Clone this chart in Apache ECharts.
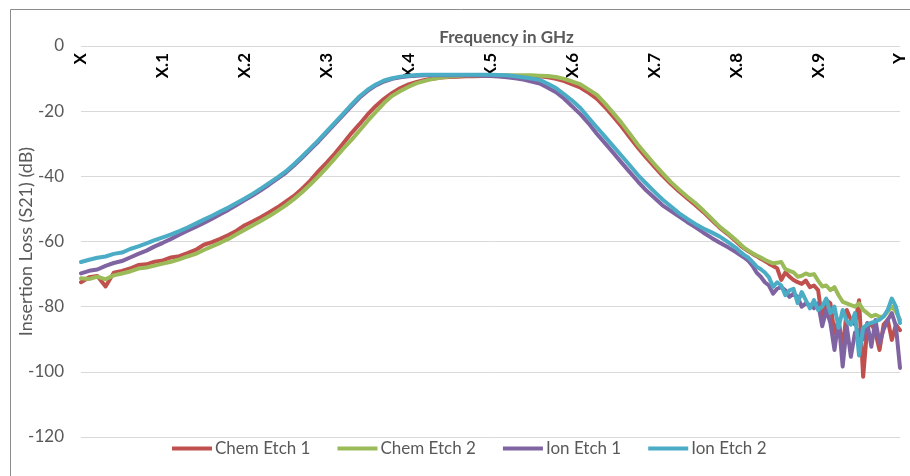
<!DOCTYPE html>
<html>
<head>
<meta charset="utf-8">
<script src="https://cdn.jsdelivr.net/npm/echarts@6/dist/echarts.min.js"></script>
<style>
html,body{margin:0;padding:0;background:#fff;}
#chart{width:910px;height:476px;}
</style>
</head>
<body>
<div id="chart"></div>
<script>
// Frequency positions as a fraction of the X..Y span
const freq = [
0,0.01,0.02,0.03,0.04,0.05,0.06,0.07,0.08,0.09,
0.10,0.11,0.12,0.13,0.14,0.15,0.16,0.17,0.18,0.19,
0.20,0.21,0.22,0.23,0.24,0.25,0.26,0.27,0.28,0.29,
0.30,0.31,0.32,0.33,0.34,0.35,0.36,0.37,0.38,0.39,
0.40,0.41,0.42,0.43,0.44,0.45,0.46,0.47,0.48,0.49,
0.50,0.51,0.52,0.53,0.54,0.55,0.56,0.57,0.58,0.59,
0.60,0.61,0.62,0.63,0.64,0.65,0.66,0.67,0.68,0.69,
0.70,0.71,0.72,0.73,0.74,0.75,0.76,0.77,0.78,0.79,
0.80,
0.805,0.81,0.815,0.82,0.825,0.83,0.835,0.84,0.845,0.85,
0.855,0.86,0.865,0.87,0.875,0.88,0.885,0.89,0.895,0.90,
0.905,0.91,0.915,0.92,0.925,0.93,0.935,0.94,0.945,0.95,
0.955,0.96,0.965,0.97,0.975,0.98,0.985,0.99,0.995,1.0
];

const chemEtch1 = [
-72.5,-71.0,-70.6,-73.8,-69.6,-69.0,-68.3,-67.2,-67.0,-66.2,
-65.8,-64.9,-64.5,-63.6,-62.6,-61.0,-60.2,-59.2,-58.0,-56.7,
-55.0,-53.8,-52.5,-51.0,-49.5,-47.8,-46.0,-43.8,-41.3,-38.4,
-35.8,-33.0,-29.9,-26.8,-24.0,-21.0,-18.4,-16.2,-14.4,-12.9,
-11.8,-11.0,-10.4,-10.0,-9.7,-9.5,-9.4,-9.3,-9.3,-9.2,
-9.2,-9.2,-9.2,-9.2,-9.2,-9.3,-9.3,-9.6,-10.1,-10.8,
-11.8,-12.8,-14.4,-16.2,-18.8,-21.7,-24.7,-28.0,-31.2,-34.2,
-37.0,-39.8,-42.3,-44.6,-46.7,-48.8,-51.0,-53.4,-55.8,-57.8,
-60.0,
-61.2,-62.2,-63.0,-63.8,-64.5,-65.3,-66.0,-66.8,-67.5,-68.2,
-71.8,-69.5,-70.8,-71.8,-72.5,-73.0,-72.0,-74.0,-73.5,-74.9,
-84.1,-78.0,-79.0,-88.2,-84.0,-93.3,-81.0,-84.0,-85.5,-78.0,
-101.5,-86.5,-85.0,-88.0,-93.3,-85.5,-84.0,-90.2,-85.5,-87.2
];

const chemEtch2 = [
-71.3,-71.5,-70.8,-71.6,-70.4,-69.8,-69.2,-68.3,-68.0,-67.4,
-66.8,-66.2,-65.5,-64.6,-63.8,-62.6,-61.5,-60.4,-59.2,-57.8,
-56.4,-55.0,-53.6,-52.2,-50.6,-48.9,-47.0,-44.9,-42.5,-40.0,
-37.3,-34.5,-31.6,-28.9,-26.0,-23.0,-20.2,-17.5,-15.3,-13.8,
-12.5,-11.4,-10.7,-10.1,-9.7,-9.4,-9.2,-9.0,-9.0,-9.0,
-9.0,-9.0,-9.0,-9.0,-9.0,-9.0,-9.1,-9.2,-9.5,-10.1,
-10.9,-11.8,-13.4,-15.0,-17.7,-20.6,-23.6,-26.9,-30.3,-33.3,
-36.2,-39.0,-41.7,-44.0,-46.2,-48.2,-50.5,-53.0,-55.5,-57.5,
-59.6,
-60.8,-62.0,-62.8,-63.6,-64.3,-64.9,-65.6,-66.2,-66.7,-66.5,
-66.3,-68.5,-69.0,-69.5,-70.8,-70.5,-69.8,-70.3,-70.0,-72.0,
-73.8,-73.5,-74.9,-74.0,-76.5,-78.5,-79.0,-79.5,-80.0,-79.0,
-81.0,-82.0,-83.0,-82.5,-83.1,-83.0,-81.5,-80.0,-81.5,-84.0
];

const ionEtch1 = [
-69.8,-69.0,-68.6,-67.5,-66.6,-66.0,-64.9,-63.8,-62.8,-61.5,
-60.4,-59.2,-57.9,-56.7,-55.5,-54.3,-53.0,-51.6,-50.3,-48.8,
-47.3,-45.8,-44.2,-42.5,-40.7,-38.9,-36.7,-34.3,-31.8,-29.3,
-26.6,-23.9,-21.2,-18.5,-15.9,-13.8,-12.1,-10.9,-10.1,-9.6,
-9.3,-9.1,-9.0,-9.0,-9.0,-9.0,-9.0,-9.0,-9.0,-9.1,
-9.2,-9.4,-9.6,-9.9,-10.3,-10.9,-11.5,-12.8,-14.2,-16.2,
-18.6,-21.0,-23.8,-27.0,-29.9,-32.8,-35.8,-38.7,-41.6,-44.3,
-46.6,-48.9,-50.6,-52.3,-54.0,-55.6,-57.3,-58.9,-60.4,-61.8,
-63.3,
-64.2,-65.0,-66.0,-67.5,-69.6,-70.8,-72.5,-73.5,-76.0,-74.5,
-74.0,-75.0,-77.0,-76.0,-77.0,-80.0,-79.0,-79.5,-80.5,-79.0,
-86.0,-81.0,-85.0,-93.3,-84.0,-98.4,-86.0,-95.4,-88.0,-87.2,
-90.0,-85.0,-92.3,-84.1,-91.2,-87.0,-84.0,-82.0,-86.0,-98.8
];

const ionEtch2 = [
-66.3,-65.6,-65.0,-64.6,-63.8,-63.4,-62.3,-61.5,-60.6,-59.6,
-58.7,-57.8,-56.8,-55.7,-54.5,-53.3,-52.1,-50.8,-49.6,-48.2,
-46.8,-45.3,-43.7,-42.0,-40.3,-38.5,-36.3,-33.9,-31.4,-28.9,
-26.2,-23.5,-20.8,-18.1,-15.5,-13.4,-11.8,-10.6,-9.9,-9.4,
-9.1,-8.9,-8.8,-8.8,-8.8,-8.8,-8.8,-8.8,-8.8,-8.8,
-8.8,-8.9,-9.0,-9.3,-9.6,-10.0,-10.4,-11.6,-12.9,-14.8,
-16.8,-19.1,-22.1,-25.0,-27.9,-30.8,-33.7,-36.6,-39.6,-42.2,
-44.7,-47.1,-49.2,-51.3,-53.0,-54.6,-56.0,-57.2,-58.5,-60.2,
-62.0,
-63.2,-64.2,-65.0,-66.3,-67.7,-68.5,-69.5,-71.0,-73.9,-72.5,
-73.5,-76.5,-75.0,-74.5,-78.9,-75.5,-78.0,-80.5,-78.0,-81.0,
-80.0,-77.5,-82.0,-80.0,-86.5,-81.0,-84.5,-85.5,-82.0,-95.0,
-86.5,-85.5,-85.0,-84.5,-84.0,-83.0,-81.0,-77.5,-80.0,-85.0
];

const xTickLabels = ['X','X.1','X.2','X.3','X.4','X.5','X.6','X.7','X.8','X.9','Y'];
const seriesNames = ['Chem Etch 1','Chem Etch 2','Ion Etch 1','Ion Etch 2'];
const seriesValues = [chemEtch1, chemEtch2, ionEtch1, ionEtch2];
const seriesColors = ['#C0504D','#9BBB59','#8064A2','#4BACC6'];

const FONT = 'Lato';
const chart = echarts.init(document.getElementById('chart'), null, {renderer:'canvas'});
chart.setOption({
  animation: false,
  backgroundColor: '#ffffff',
  graphic: [{
    type: 'rect', silent: true, z: -1,
    shape: {x: 10.5, y: 9.5, width: 1000, height: 600},
    style: {fill: 'none', stroke: '#8c8c8c', lineWidth: 1}
  }],
  grid: {left: 81, right: 10, top: 46, bottom: 39, containLabel: false, outerBoundsMode: 'none'},
  xAxis: {
    type: 'value', min: 0, max: 1, interval: 0.1, position: 'top',
    axisLine: {show: false}, axisTick: {show: false}, splitLine: {show: false},
    axisLabel: {
      inside: true, rotate: 90, margin: 7,
      fontFamily: FONT, fontWeight: 'bold', fontSize: 17, color: '#000',
      formatter: function (v) { return xTickLabels[Math.round(v * 10)]; }
    },
    name: 'Frequency in GHz', nameLocation: 'middle', nameGap: 0, nameMoveOverlap: false,
    nameTextStyle: {fontFamily: FONT, fontWeight: 'bold', fontSize: 17, color: '#595959',
      verticalAlign: 'bottom', padding: [0, 0, 0, 32]}
  },
  yAxis: {
    type: 'value', min: -120, max: 0, interval: 20,
    axisLine: {show: false}, axisTick: {show: false},
    splitLine: {lineStyle: {color: '#D9D9D9', width: 1}},
    axisLabel: {fontFamily: FONT, fontSize: 17, color: '#595959', margin: 17},
    name: 'Insertion Loss (S21) (dB)', nameLocation: 'middle', nameGap: 46, nameRotate: 90,
    nameMoveOverlap: false,
    nameTextStyle: {fontFamily: FONT, fontSize: 18, color: '#595959'}
  },
  legend: {
    data: seriesNames, left: 167, top: 435, icon: 'rect',
    itemWidth: 40, itemHeight: 4, itemGap: 27,
    textStyle: {fontFamily: FONT, fontSize: 17, color: '#595959', padding: [0,0,0,-2]}
  },
  series: seriesNames.map(function (name, k) {
    return {
      name: name, type: 'line', showSymbol: false, symbol: 'none',
      data: freq.map(function (f, i) { return [f, seriesValues[k][i]]; }),
      lineStyle: {color: seriesColors[k], width: 4, join: 'round', cap: 'round'},
      itemStyle: {color: seriesColors[k]}
    };
  })
});
</script>
</body>
</html>
